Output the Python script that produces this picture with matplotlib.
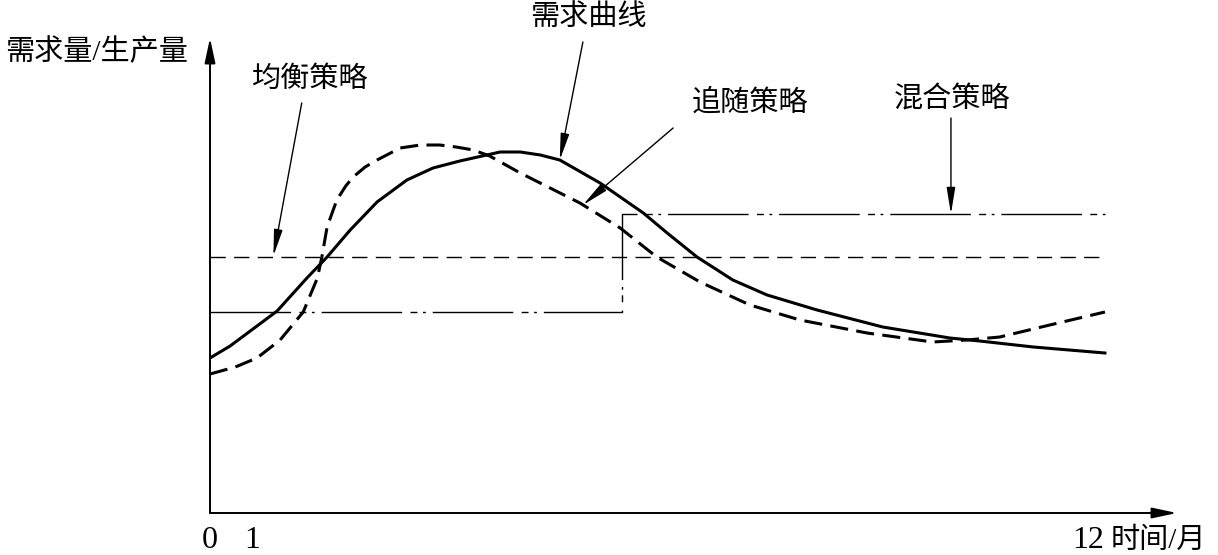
import numpy as np
import matplotlib
matplotlib.use("Agg")
import matplotlib.pyplot as plt

plt.rcParams['font.family'] = ['Liberation Serif', 'Noto Sans CJK SC', 'DejaVu Sans']
plt.rcParams['lines.scale_dashes'] = False

# 需求曲线 (实线)
demand_x = [0.0, 0.27, 0.54, 0.90, 1.30, 1.57, 1.88, 2.24, 2.64, 2.99, 3.35, 3.71,
            3.89, 4.16, 4.43, 4.69, 5.23, 5.81, 6.13, 6.53, 7.01, 7.47, 8.14,
            9.02, 9.92, 10.32, 11.04, 12.0]
demand_y = [15.5, 16.7, 18.2, 20.2, 23.5, 25.6, 28.3, 31.1, 33.3, 34.5, 35.2, 35.8,
            36.1, 36.1, 35.8, 35.3, 33.0, 30.0, 28.0, 25.6, 23.3, 21.8, 20.3,
            18.6, 17.5, 17.2, 16.6, 16.0]

# 追随策略 (粗虚线)
chase_x = [0.0, 0.34, 0.63, 0.94, 1.25, 1.44, 1.50, 1.57, 1.70, 1.82, 1.92, 2.08,
           2.24, 2.55, 2.82, 3.08, 3.30, 3.53, 3.75, 4.16, 4.96, 5.50, 5.99, 6.57,
           7.24, 7.91, 8.81, 9.69, 10.15, 10.59, 11.26, 12.0]
chase_y = [13.9, 14.6, 15.5, 17.3, 20.1, 23.5, 25.6, 28.6, 31.3, 32.7, 33.6, 34.6,
           35.3, 36.5, 36.8, 36.8, 36.6, 36.3, 35.7, 34.0, 31.0, 28.5, 25.6, 23.1,
           20.8, 19.3, 18.0, 17.1, 17.3, 17.6, 18.8, 20.1]

# 均衡策略 (细虚线)
level_x = [0.0, 12.0]
level_y = [25.65, 25.65]

# 混合策略 (点划线, 阶梯)
mixed_x = [0.0, 5.52, 5.52, 12.0]
mixed_y = [20.1, 20.1, 29.9, 29.9]

tick_pos = [0.0, 0.56, 11.77]
tick_labels = ['0', '1', '12']

fig = plt.figure(figsize=(12.18, 5.55), dpi=100)
ax = fig.add_axes([210 / 1218, 42 / 555, (1177 - 210) / 1218, (513 - 38) / 555])
ax.set_xlim(0, 12.966)
ax.set_ylim(0, 47.5)
ax.axis('off')

ax.plot(demand_x, demand_y, color='black', lw=2.2, solid_joinstyle='round')
ax.plot(chase_x, chase_y, color='black', lw=2.2, linestyle=(0, (13, 6)))
ax.plot(level_x, level_y, color='black', lw=1.0, linestyle=(0, (11, 6)))
ax.plot(mixed_x, mixed_y, color='black', lw=1.0,
        linestyle=(0, (58, 6, 5, 4, 2, 5)))

# 坐标轴箭头
axis_arrow = dict(arrowstyle='-|>,head_length=0.75,head_width=0.16',
                  mutation_scale=20, color='black', lw=1.4, shrinkA=0, shrinkB=0)
ax.annotate('', xy=(12.966, 0), xytext=(0, 0), arrowprops=axis_arrow,
            annotation_clip=False)
ax.annotate('', xy=(0, 47.5), xytext=(0, 0), arrowprops=axis_arrow,
            annotation_clip=False)

# 标注
fs = 21
lab_arrow = dict(arrowstyle='-|>,head_length=0.8,head_width=0.13',
                 mutation_scale=20, color='black', lw=1.0, shrinkA=0, shrinkB=0)

ax.text(5.07, 49.5, '需求曲线', fontsize=fs, ha='center', va='center', clip_on=False)
ax.annotate('', xy=(4.69, 35.3), xytext=(5.00, 47.1), arrowprops=lab_arrow,
            annotation_clip=False)

ax.text(1.34, 43.3, '均衡策略', fontsize=fs, ha='center', va='center')
ax.annotate('', xy=(0.85, 25.7), xytext=(1.23, 41.0), arrowprops=lab_arrow)

ax.text(7.24, 41.0, '追随策略', fontsize=fs, ha='center', va='center')
ax.annotate('', xy=(5.00, 30.8), xytext=(6.21, 38.5), arrowprops=lab_arrow)

ax.text(9.95, 41.3, '混合策略', fontsize=fs, ha='center', va='center')
ax.annotate('', xy=(9.935, 29.9), xytext=(9.935, 39.5), arrowprops=lab_arrow)

ax.text(-1.515, 46.1, '需求量/生产量', fontsize=fs, ha='center', va='center',
        clip_on=False)

for p, t in zip(tick_pos, tick_labels):
    ax.text(p, -2.8, t, fontsize=23, ha='center', va='center', clip_on=False)
ax.text(12.71, -2.8, '时间/月', fontsize=fs, ha='center', va='center', clip_on=False)

fig.savefig('out.png', dpi=100, facecolor='white')
